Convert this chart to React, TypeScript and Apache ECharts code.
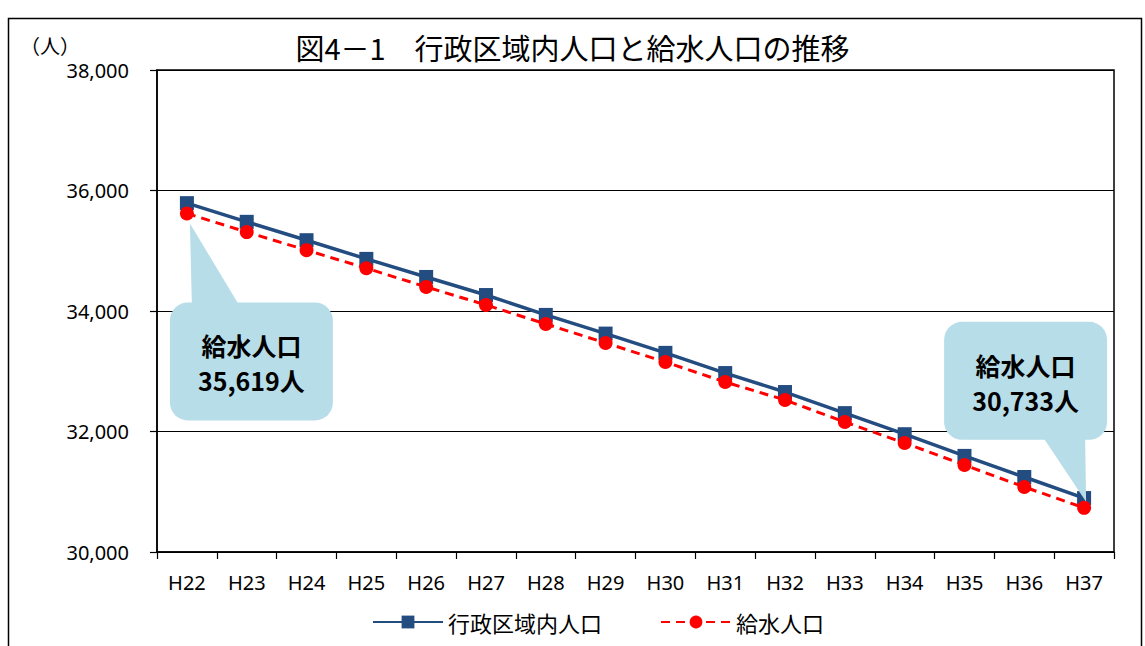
import React, { useEffect, useRef } from "react";
import * as echarts from "echarts";

const categories = ["H22", "H23", "H24", "H25", "H26", "H27", "H28", "H29", "H30", "H31", "H32", "H33", "H34", "H35", "H36", "H37"];
const gyoseiPop = [35790, 35480, 35175, 34865, 34565, 34265, 33935, 33625, 33305, 32970, 32655, 32305, 31955, 31595, 31245, 30895];
const kyusuiPop = [35619, 35310, 35010, 34710, 34400, 34100, 33785, 33469, 33153, 32821, 32523, 32157, 31809, 31444, 31079, 30733];
const seriesNames = ["行政区域内人口", "給水人口"];
const yMin = 30000;
const yMax = 38000;
const yInterval = 2000;
const chartTitle = "図4－1　行政区域内人口と給水人口の推移";
const unitLabel = "（人）";
const calloutTitle = "給水人口";

const fmt = (v: number) => v.toLocaleString("en-US");

export default function App() {
  const ref = useRef<HTMLDivElement>(null);
  useEffect(() => {
    const chart = echarts.init(ref.current!, null, { renderer: "svg" });
    const labelFont = "Noto Sans";
    const cjkFont = "Noto Sans CJK JP";
    chart.setOption({
      animation: false,
      backgroundColor: "#ffffff",
      title: {
        text: chartTitle,
        left: "center",
        top: 27,
        textStyle: { fontFamily: cjkFont, fontSize: 29, fontWeight: "normal", color: "#000" },
      },
      grid: {
        left: 157,
        right: 31,
        top: 70,
        bottom: 94,
        show: true,
        borderColor: "#000",
        borderWidth: 1.5,
        backgroundColor: "transparent",
      },
      legend: {
        left: 367,
        top: 606,
        itemWidth: 70,
        itemHeight: 16,
        itemGap: 58,
        textStyle: { fontFamily: cjkFont, fontSize: 22, color: "#000" },
        data: seriesNames,
      },
      xAxis: {
        type: "category",
        data: categories,
        boundaryGap: true,
        axisLine: { lineStyle: { color: "#000", width: 1.5 } },
        axisTick: { show: true, alignWithLabel: false, length: 7, lineStyle: { color: "#000", width: 1.2 } },
        axisLabel: { color: "#000", fontSize: 20, fontFamily: labelFont, margin: 20, interval: 0 },
      },
      yAxis: {
        type: "value",
        min: yMin,
        max: yMax,
        interval: yInterval,
        axisLine: { show: true, lineStyle: { color: "#000", width: 1.5 } },
        axisTick: { show: true, length: 7, lineStyle: { color: "#000", width: 1.2 } },
        axisLabel: {
          color: "#000",
          fontSize: 20,
          fontFamily: labelFont,
          margin: 28,
          formatter: (v: number) => fmt(v),
        },
        splitLine: { show: true, lineStyle: { color: "#000", width: 1.2 } },
      },
      series: [
        {
          name: seriesNames[0],
          type: "line",
          data: gyoseiPop,
          symbol: "rect",
          symbolSize: 14,
          itemStyle: { color: "#234C80" },
          lineStyle: { color: "#234C80", width: 3.5 },
          z: 2,
        },
        {
          name: seriesNames[1],
          type: "line",
          data: kyusuiPop,
          symbol: "circle",
          symbolSize: 14,
          itemStyle: { color: "#FF0000" },
          lineStyle: { color: "#FF0000", width: 3, type: [9, 6] },
          z: 3,
        },
      ],
    });

    const first = chart.convertToPixel({ seriesIndex: 1 }, [0, kyusuiPop[0]]) as number[];
    const lastIdx = kyusuiPop.length - 1;
    const last = chart.convertToPixel({ seriesIndex: 1 }, [lastIdx, kyusuiPop[lastIdx]]) as number[];
    const fill = "#B7DDE8";
    const boxW = 163;
    const boxH = 118;
    const leftBox = { x: first[0] - 17, y: first[1] + 89 };
    const rightBox = { x: last[0] - 140, y: last[1] - 186 };
    const textStyle = (t: string, x: number, y: number) => ({
      type: "text",
      x,
      y,
      z: 20,
      style: {
        text: t,
        fill: "#000",
        fontFamily: cjkFont,
        fontSize: 25,
        fontWeight: "bold",
        textAlign: "center",
        textVerticalAlign: "middle",
      },
    });

    chart.setOption({
      graphic: [
        {
          type: "rect",
          z: -1,
          shape: { x: 8.5, y: 18.5, width: 1133, height: 700 },
          style: { fill: "none", stroke: "#000", lineWidth: 1.5 },
        },
        {
          type: "text",
          x: 20,
          y: 35,
          style: { text: unitLabel, fill: "#000", fontFamily: cjkFont, fontSize: 20 },
        },
        {
          type: "polygon",
          z: 10,
          shape: {
            points: [
              [first[0] + 3, first[1] + 10],
              [leftBox.x + 22, leftBox.y + 4],
              [leftBox.x + 70, leftBox.y + 4],
            ],
          },
          style: { fill },
        },
        {
          type: "rect",
          z: 10,
          shape: { x: leftBox.x, y: leftBox.y, width: boxW, height: boxH, r: 18 },
          style: { fill },
        },
        textStyle(calloutTitle, leftBox.x + boxW / 2, leftBox.y + 43),
        textStyle(fmt(kyusuiPop[0]) + "人", leftBox.x + boxW / 2, leftBox.y + 78),
        {
          type: "polygon",
          z: 10,
          shape: {
            points: [
              [last[0] + 2, last[1] - 6],
              [rightBox.x + 98, rightBox.y + boxH - 4],
              [rightBox.x + 141, rightBox.y + boxH - 4],
            ],
          },
          style: { fill },
        },
        {
          type: "rect",
          z: 10,
          shape: { x: rightBox.x, y: rightBox.y, width: boxW, height: boxH, r: 18 },
          style: { fill },
        },
        textStyle(calloutTitle, rightBox.x + boxW / 2, rightBox.y + 43),
        textStyle(fmt(kyusuiPop[lastIdx]) + "人", rightBox.x + boxW / 2, rightBox.y + 78),
      ],
    });

    return () => chart.dispose();
  }, []);
  return (
    <div
      ref={ref}
      style={{ position: "absolute", left: 0, top: 0, width: 1145, height: 646, background: "#fff" }}
    />
  );
}
